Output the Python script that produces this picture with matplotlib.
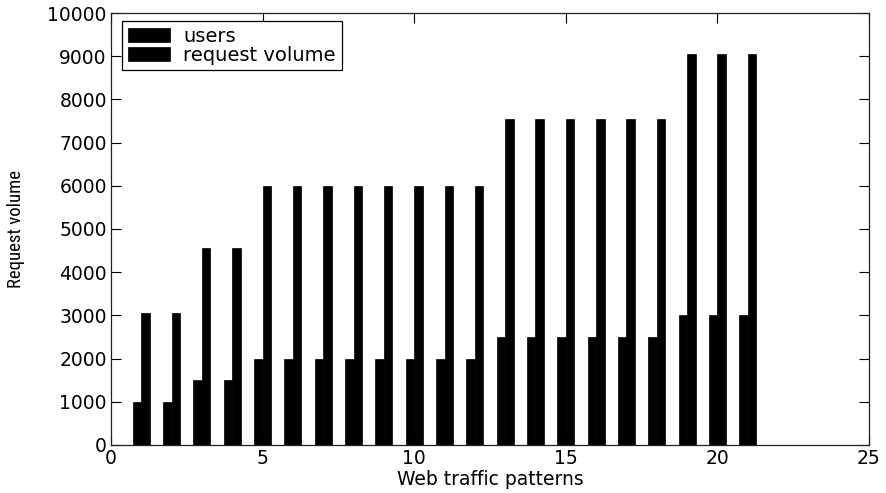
import numpy as np
import matplotlib.pyplot as plt

# Web traffic patterns 1..21
patterns = np.arange(1, 22)
users = [1000, 1000, 1500, 1500, 2000, 2000, 2000, 2000, 2000, 2000, 2000, 2000,
         2500, 2500, 2500, 2500, 2500, 2500, 3000, 3000, 3000]
request_volume = [3050, 3050, 4550, 4550, 6000, 6000, 6000, 6000, 6000, 6000, 6000, 6000,
                  7550, 7550, 7550, 7550, 7550, 7550, 9060, 9060, 9060]

bw = 0.28  # width of each bar in a group

fig = plt.figure(figsize=(8.86, 4.93), dpi=100)
ax = fig.add_axes([0.1253, 0.0974, 0.8555, 0.8762])

ax.bar(patterns - bw / 2, users, width=bw, color='k', edgecolor='k', linewidth=0.5, label='users')
ax.bar(patterns + bw / 2, request_volume, width=bw, color='k', edgecolor='k', linewidth=0.5,
       label='request volume')

ax.set_xlim(0, 25)
ax.set_ylim(0, 10000)
ax.set_xticks([0, 5, 10, 15, 20, 25])
ax.set_yticks(np.arange(0, 10001, 1000))
ax.tick_params(direction='in', length=7.5, width=0.8, top=True, right=True,
               labelsize=13.5, pad=3)
for s in ax.spines.values():
    s.set_linewidth(0.9)
    s.set_color('#202020')

ax.set_xlabel('Web traffic patterns', fontsize=13.5, labelpad=1)
ax.set_ylabel('Request volume', fontsize=13.5,
              family=['Roboto Condensed', 'PT Sans Narrow', 'Archivo Narrow', 'DejaVu Sans'])
ax.yaxis.set_label_coords(-0.114, 0.5)

leg = ax.legend(loc='upper left', bbox_to_anchor=(0.0145, 0.982), fontsize=14,
                fancybox=False, framealpha=1, edgecolor='k',
                handlelength=2.15, handleheight=0.75, borderaxespad=0,
                borderpad=0.3, labelspacing=0.0, handletextpad=0.7)
leg.get_frame().set_linewidth(0.9)

fig.savefig('out.png', dpi=100)
